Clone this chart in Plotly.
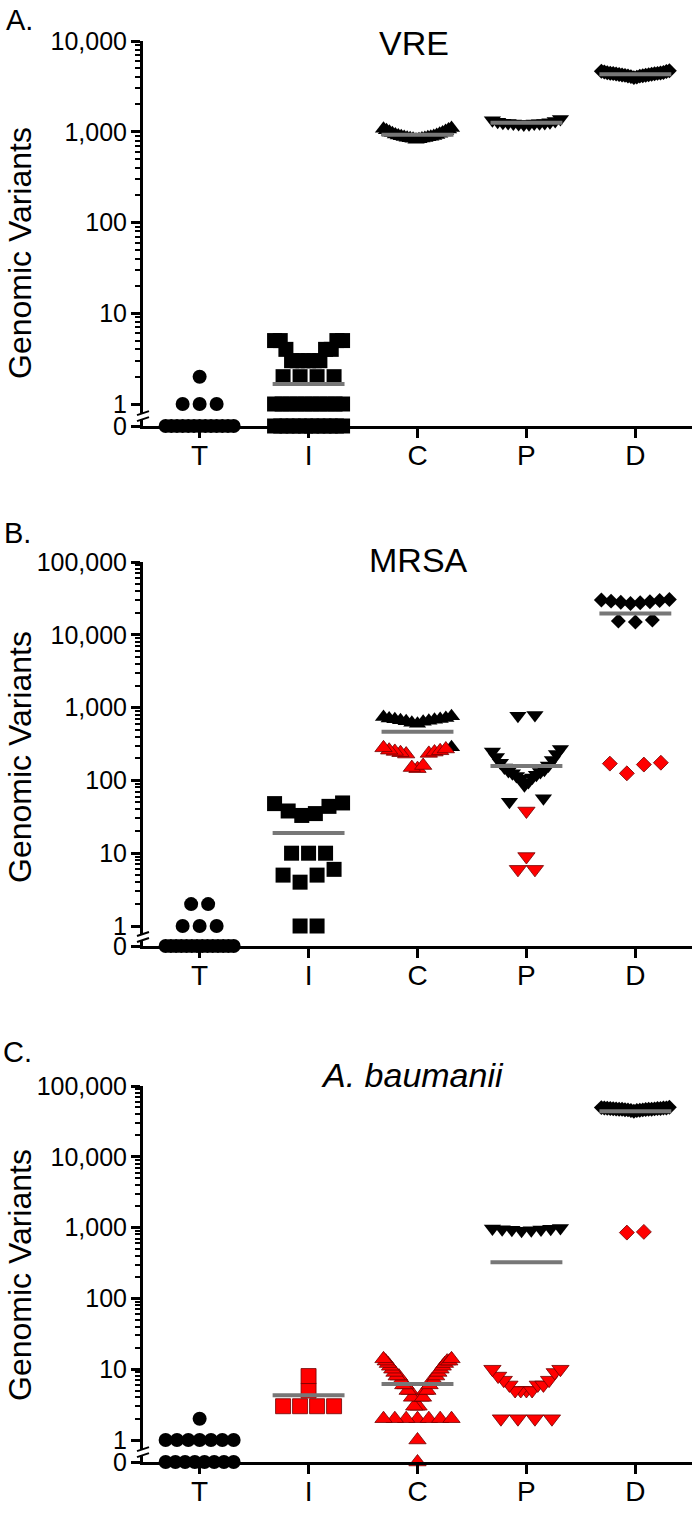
import math
import plotly.graph_objects as go

# ---------------- data ----------------
CATEGORIES = ["T", "I", "C", "P", "D"]
PANEL_LABELS = ["A.", "B.", "C."]
PANEL_TITLES = ["VRE", "MRSA", "<i>A. baumanii</i>"]
Y_TICKTEXT = [["0", "1", "10", "100", "1,000", "10,000"],
              ["0", "1", "10", "100", "1,000", "10,000", "100,000"],
              ["0", "1", "10", "100", "1,000", "10,000", "100,000"]]

# Panel A - VRE (all black)
VRE_T = [0, 0, 0, 0, 0, 0, 0, 0, 0, 0, 0, 0, 0, 1, 1, 1, 2]
VRE_I = [0, 0, 0, 0, 0, 0, 0, 0, 0, 0, 0, 0,
         1, 1, 1, 1, 1, 1, 1, 1, 1, 1,
         2, 2, 2, 2, 3, 3, 3, 3, 3, 3, 4, 4, 4, 5, 5, 5, 5]
VRE_C = [815, 825, 835, 840, 850, 855, 860, 870, 875, 880, 890, 900,
         910, 920, 935, 950, 965, 980, 1000, 1020, 1040, 1060, 1080, 1100]
VRE_P = [1200, 1210, 1220, 1230, 1235, 1240, 1245, 1250, 1260, 1270,
         1290, 1310, 1340, 1380]
VRE_D = [3950, 4000, 4050, 4100, 4120, 4150, 4180, 4200, 4220, 4250, 4270, 4300,
         4320, 4350, 4380, 4400, 4420, 4450, 4480, 4500, 4550, 4600, 4650, 4700]
VRE_MEAN = [None, 1.66, 926, 1256, 4300]

# Panel B - MRSA (black and red subgroups)
MRSA_T = [0, 0, 0, 0, 0, 0, 0, 0, 0, 0, 0, 0, 0, 0, 1, 1, 1, 2, 2]
MRSA_I = [1, 1, 4, 5, 5, 6, 10, 10, 10, 33, 35, 38, 44, 48, 49]
MRSA_C_BLACK = [285, 600, 620, 640, 650, 660, 670, 680, 690, 700, 710, 720, 740, 760]
MRSA_C_RED = [145, 150, 160, 230, 235, 240, 245, 250, 255, 260, 270, 280]
MRSA_P_BLACK = [51, 57, 86, 95, 105, 110, 115, 120, 125, 130, 135, 140, 150, 160,
                175, 190, 210, 230, 250, 270, 770, 790]
MRSA_P_RED = [6, 6, 9, 38]
MRSA_D_BLACK = [15000, 15500, 16000, 27000, 27500, 28000, 28500, 29000, 29500,
                30000, 30500]
MRSA_D_RED = [125, 165, 170, 175]
MRSA_MEAN = [None, 19, 467, 158, 19600]

# Panel C - A. baumanii
AB_T = [0, 0, 0, 0, 0, 0, 0, 0, 1, 1, 1, 1, 1, 1, 1, 2]
AB_I_RED = [3, 3, 3, 3, 5, 8]
AB_C_RED = [0, 1, 2, 2, 2, 2, 2, 2, 2, 3, 3, 3, 4, 4, 4, 5, 5, 5, 5, 6, 6, 6,
            7, 7, 7, 8, 8, 8, 9, 9, 10, 10, 11, 11, 12, 12, 13, 13, 13, 14, 14]
AB_P_BLACK = [900, 920, 930, 940, 950, 960, 970, 990]
AB_P_RED = [2, 2, 2, 2, 5, 5, 5, 5, 6, 6, 6, 7, 7, 8, 9, 10, 10]
AB_D_BLACK = [44000, 45000, 45000, 45500, 46000, 46000, 46200, 46500, 46800, 47000,
              47000, 47000, 47200, 47500, 47800, 48000, 48000, 48200, 48500, 48800,
              49000, 49000, 49500, 50000]
AB_D_RED = [850, 870]
AB_MEAN = [None, 4.3, 6.2, 324, 44000]

PANELS = [
    [(VRE_T, []), (VRE_I, []), (VRE_C, []), (VRE_P, []), (VRE_D, [])],
    [(MRSA_T, []), (MRSA_I, []), (MRSA_C_BLACK, MRSA_C_RED),
     (MRSA_P_BLACK, MRSA_P_RED), (MRSA_D_BLACK, MRSA_D_RED)],
    [(AB_T, []), ([], AB_I_RED), ([], AB_C_RED), (AB_P_BLACK, AB_P_RED),
     (AB_D_BLACK, AB_D_RED)],
]
MEANS = [VRE_MEAN, MRSA_MEAN, AB_MEAN]

# ---------------- styling / geometry ----------------
FONT = "Liberation Sans, Arial, sans-serif"
FIG_W, FIG_H = 699, 1515
M_L, M_R = 143, 7
X_RANGE = [-0.52, 4.52]
PX_PER_CAT = (FIG_W - M_L - M_R) / (X_RANGE[1] - X_RANGE[0])
# pixel rows of the top tick, the "1" tick and the "0" baseline of each panel
TOP_PX = [41, 562, 1086]
ONE_PX = [404, 926, 1440]
ZERO_PX = [426, 946, 1462]
TOP_DEC = [4, 5, 5]
SYMBOLS = ["circle", "square", "triangle-up", "triangle-down", "diamond"]
SIZES = [14, 15, 15, 15, 11.5]
RED = "#ff0000"
RED_EDGE = "#700000"
MEAN_COLOR = "#777777"
MEAN_HALF = 0.33
GAP_PX, STEP_PX, WIDTH_PX = 12.0, 17.0, 68.0
TITLE_PX = [(414, 43), (418, 560), (412, 1075)]
LABEL_PX = [(19, 20), (17, 533), (17, 1052)]
YTITLE_PX = [253, 757, 1275]


def px_x(px):
    return (px - M_L) / (FIG_W - M_L - M_R)


def px_y(py):
    return 1 - py / FIG_H


def spread(values, ppd, zlog):
    """Column-scatter layout: near-equal values are grouped and fanned out
    horizontally (lowest in the centre, alternating outwards)."""
    ys = [(math.log10(v) if v > 0 else zlog) * ppd for v in values]
    order = sorted(range(len(values)), key=lambda i: (ys[i], i))
    clusters = []
    for i in order:
        if clusters and ys[i] - ys[clusters[-1][-1]] < GAP_PX:
            clusters[-1].append(i)
        else:
            clusters.append([i])
    offs = [0.0] * len(values)
    for cl in clusters:
        n = len(cl)
        sp = 0 if n == 1 else min(STEP_PX, WIDTH_PX / (n - 1))
        slots = [(k - (n - 1) / 2) * sp for k in range(n)]
        slots.sort(key=lambda s: (round(abs(s), 6), s))
        for idx, s in zip(cl, slots):
            offs[idx] = s
    return offs


fig = go.Figure()
shapes, annotations = [], []
layout = {}

for p in range(3):
    ppd = (ONE_PX[p] - TOP_PX[p]) / TOP_DEC[p]
    zlog = -(ZERO_PX[p] - ONE_PX[p]) / ppd
    zval = 10 ** zlog
    xa = "x" if p == 0 else f"x{p + 1}"
    ya = "y" if p == 0 else f"y{p + 1}"
    dom = [px_y(ZERO_PX[p]), px_y(TOP_PX[p])]

    for ci, (blk, red) in enumerate(PANELS[p]):
        vals = list(blk) + list(red)
        if not vals:
            continue
        offs = spread(vals, ppd, zlog)
        groups = [(blk, offs[:len(blk)], "black", "black", 0),
                  (red, offs[len(blk):], RED, RED_EDGE, 0.8)]
        for gv, go_, col, edge, lw in groups:
            if not gv:
                continue
            fig.add_trace(go.Scatter(
                x=[ci + o / PX_PER_CAT for o in go_],
                y=[v if v > 0 else zval for v in gv],
                mode="markers", xaxis=xa, yaxis=ya, cliponaxis=False,
                marker=dict(symbol=SYMBOLS[ci], size=SIZES[ci], color=col,
                            line=dict(color=edge, width=lw)),
                showlegend=False, hoverinfo="skip"))
    for ci, m in enumerate(MEANS[p]):
        if m is None:
            continue
        fig.add_trace(go.Scatter(
            x=[ci - MEAN_HALF, ci + MEAN_HALF], y=[m, m], mode="lines",
            xaxis=xa, yaxis=ya, line=dict(color=MEAN_COLOR, width=4),
            showlegend=False, hoverinfo="skip"))

    tickvals = [zval] + [10 ** d for d in range(TOP_DEC[p] + 1)]
    minor_vals = [k * 10 ** d for d in range(TOP_DEC[p]) for k in range(2, 10)]
    layout["xaxis" if p == 0 else f"xaxis{p + 1}"] = dict(
        domain=[0, 1], anchor=ya, range=X_RANGE, tickmode="array",
        tickvals=list(range(len(CATEGORIES))), ticktext=CATEGORIES,
        showline=True, linecolor="black", linewidth=3, ticks="outside",
        ticklen=9, tickwidth=3, tickcolor="black", showgrid=False, zeroline=False,
        automargin=False, tickfont=dict(family=FONT, size=28, color="black"),
        ticklabelstandoff=-7)
    layout["yaxis" if p == 0 else f"yaxis{p + 1}"] = dict(
        domain=dom, anchor=xa, type="log", range=[zlog, TOP_DEC[p]],
        tickmode="array", tickvals=tickvals, ticktext=Y_TICKTEXT[p],
        showline=True, linecolor="black", linewidth=3, ticks="outside",
        ticklen=9, tickwidth=3, tickcolor="black", showgrid=False, zeroline=False,
        automargin=False, tickfont=dict(family=FONT, size=25, color="black"),
        ticklabelstandoff=-1,
        minor=dict(tickmode="array", tickvals=minor_vals, ticks="outside",
                   ticklen=5, tickwidth=1.5, tickcolor="black", showgrid=False))

    # axis break marks between "1" and "0"
    brk = px_y(ONE_PX[p] + 0.55 * (ZERO_PX[p] - ONE_PX[p]))
    shapes.append(dict(type="rect", xref="paper", yref="paper", xsizemode="pixel",
                       ysizemode="pixel", xanchor=0, yanchor=brk, x0=-3, x1=3,
                       y0=-3, y1=3, fillcolor="white", line=dict(width=0)))
    for yo in (-5, 1):
        shapes.append(dict(type="line", xref="paper", yref="paper", xsizemode="pixel",
                           ysizemode="pixel", xanchor=0, yanchor=brk, x0=-6, x1=6,
                           y0=yo, y1=yo + 4, line=dict(color="black", width=2)))

    tx, ty = TITLE_PX[p]
    annotations.append(dict(text=PANEL_TITLES[p], xref="paper", yref="paper",
                            x=px_x(tx), y=px_y(ty),
                            xanchor="center", yanchor="middle", showarrow=False,
                            font=dict(family=FONT, size=34, color="black")))
    lx, ly = LABEL_PX[p]
    annotations.append(dict(text=PANEL_LABELS[p], xref="paper", yref="paper",
                            x=px_x(lx), y=px_y(ly),
                            xanchor="center", yanchor="middle", showarrow=False,
                            font=dict(family=FONT, size=29, color="black")))
    annotations.append(dict(text="Genomic Variants", xref="paper", yref="paper",
                            x=px_x(0), y=px_y(YTITLE_PX[p]), textangle=-90,
                            xanchor="left", yanchor="middle", showarrow=False,
                            font=dict(family=FONT, size=32, color="black")))

fig.update_layout(
    width=FIG_W, height=FIG_H, autosize=False,
    margin=dict(l=M_L, r=M_R, t=0, b=0, pad=0, autoexpand=False),
    paper_bgcolor="white", plot_bgcolor="white",
    font=dict(family=FONT, color="black"),
    shapes=shapes, annotations=annotations, showlegend=False, **layout)

# the page's default 8px body margin would shift the whole figure
fig.write_html("out.html", config={"displayModeBar": False},
               post_script="document.body.style.margin='0px';")
